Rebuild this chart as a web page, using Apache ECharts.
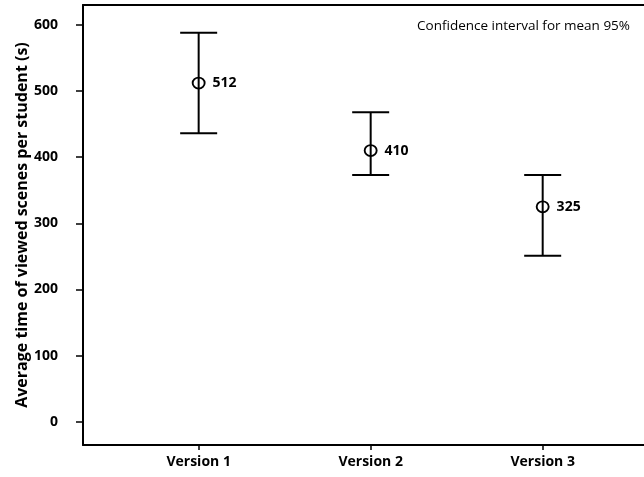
<!DOCTYPE html>
<html>
<head>
<meta charset="utf-8">
<script src="https://cdn.jsdelivr.net/npm/echarts@6/dist/echarts.min.js"></script>
<style>
  html, body { margin: 0; padding: 0; background: #fff; }
  #chart { width: 644px; height: 477px; }
</style>
</head>
<body>
<div id="chart"></div>
<script>
// Mean viewing time per student with 95% confidence intervals
var categories = ['Version 1', 'Version 2', 'Version 3'];
var positions = [1, 2, 3];
var means = [512, 410, 325];
var ciLower = [436, 373, 251];
var ciUpper = [588, 468, 373];
var yTicks = [0, 100, 200, 300, 400, 500, 600];
var noteText = 'Confidence interval for mean 95%';

var FONT = '"Open Sans", "DejaVu Sans", sans-serif';
var X_MIN = 0.3276, X_MAX = 3.589;

var errorData = positions.map(function (p, i) { return [p, ciLower[i], ciUpper[i]]; });
var meanData = positions.map(function (p, i) { return [p, means[i]]; });

var chart = echarts.init(document.getElementById('chart'), null, { renderer: 'canvas' });

var frameLine = { show: true, onZero: false, lineStyle: { color: '#000', width: 2 } };

chart.setOption({
  animation: false,
  backgroundColor: '#fff',
  grid: { left: 83, top: 5, right: 0, bottom: 32, show: false },
  graphic: [{
    type: 'text', right: 14, top: 19,
    style: { text: noteText, font: '13.5px ' + FONT, fill: '#000' }
  }],
  xAxis: [
    {
      type: 'value', position: 'bottom',
      min: X_MIN, max: X_MAX,
      splitLine: { show: false },
      axisLine: frameLine,
      axisTick: { show: true, customValues: positions, length: 5, lineStyle: { color: '#000', width: 1.5 } },
      axisLabel: {
        customValues: positions,
        margin: 10,
        color: '#000', fontSize: 14, fontWeight: 'bold', fontFamily: FONT,
        formatter: function (v) { return categories[positions.indexOf(v)] || ''; }
      }
    },
    {
      // top edge of the plot frame
      type: 'value', position: 'top',
      min: X_MIN, max: X_MAX,
      splitLine: { show: false },
      axisLine: frameLine,
      axisTick: { show: false },
      axisLabel: { show: false }
    }
  ],
  yAxis: {
    type: 'value',
    min: -35, max: 630,
    name: 'Average time of viewed scenes per student (s)',
    nameLocation: 'middle',
    nameGap: 53,
    nameMoveOverlap: false,
    nameTextStyle: { color: '#000', fontSize: 16, fontWeight: 'bold', fontFamily: FONT },
    splitLine: { show: false },
    axisLine: frameLine,
    axisTick: { show: true, customValues: yTicks, length: 7, lineStyle: { color: '#000', width: 1.5 } },
    axisLabel: {
      customValues: yTicks,
      margin: 25,
      color: '#000', fontSize: 14, fontWeight: 'bold', fontFamily: FONT
    }
  },
  series: [
    {
      type: 'custom',
      data: errorData,
      encode: { x: 0, y: [1, 2] },
      renderItem: function (params, api) {
        var x = api.value(0);
        var lo = api.coord([x, api.value(1)]);
        var hi = api.coord([x, api.value(2)]);
        var half = 18.5;
        var style = { stroke: '#000', lineWidth: 2 };
        return {
          type: 'group',
          children: [
            { type: 'line', shape: { x1: lo[0], y1: lo[1], x2: hi[0], y2: hi[1] }, style: style },
            { type: 'line', shape: { x1: hi[0] - half, y1: hi[1], x2: hi[0] + half, y2: hi[1] }, style: style },
            { type: 'line', shape: { x1: lo[0] - half, y1: lo[1], x2: lo[0] + half, y2: lo[1] }, style: style }
          ]
        };
      },
      z: 2
    },
    {
      type: 'scatter',
      data: meanData,
      symbol: 'circle',
      symbolSize: [12, 11],
      itemStyle: { color: 'transparent', borderColor: '#000', borderWidth: 1.8, opacity: 1 },
      label: {
        show: true, position: 'right', distance: 7,
        color: '#000', fontSize: 14, fontWeight: 'bold', fontFamily: FONT,
        formatter: function (p) { return p.value[1]; }
      },
      z: 3
    }
  ]
});
</script>
</body>
</html>
